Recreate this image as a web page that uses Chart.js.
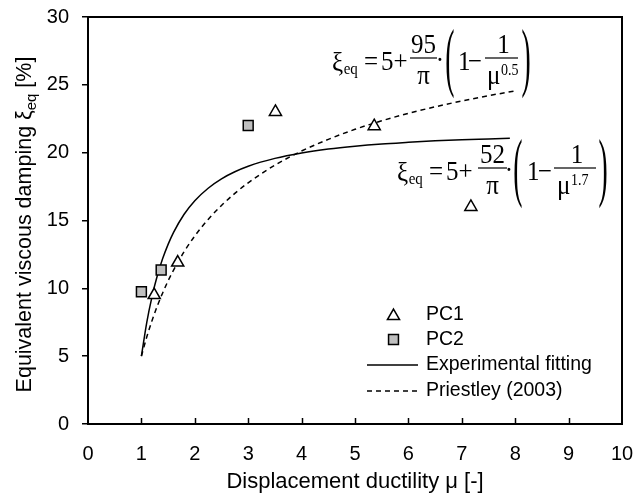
<!DOCTYPE html>
<html>
<head>
<meta charset="utf-8">
<script src="https://cdn.jsdelivr.net/npm/chart.js@4/dist/chart.umd.min.js"></script>
<style>
html,body{margin:0;padding:0;background:#fff;}
#wrap{width:636px;height:500px;}
</style>
</head>
<body>
<div id="wrap"><canvas id="c" width="636" height="500"></canvas></div>
<script>
// ---- data ----
const xTickValues = [0,1,2,3,4,5,6,7,8,9,10];
const yTickValues = [0,5,10,15,20,25,30];

const pc1Mu = [1.24, 1.68, 3.51, 5.36, 7.17];
const pc1Xi = [9.5, 11.9, 23.0, 21.95, 16.0];

const pc2Mu = [1.0, 1.37, 3.0];
const pc2Xi = [9.75, 11.35, 22.0];

const expMu = [1.0, 1.1, 1.2, 1.3, 1.4, 1.5, 1.6, 1.8, 2.0, 2.25, 2.5, 2.75, 3.0, 3.5, 4.0, 4.5, 5.0, 5.5, 6.0, 6.5, 7.0, 7.5, 7.9];
const expXi = [5.00, 7.48, 9.41, 10.96, 12.21, 13.24, 14.11, 15.46, 16.46, 17.38, 18.07, 18.59, 19.00, 19.58, 19.98, 20.27, 20.48, 20.64, 20.76, 20.87, 20.95, 21.01, 21.06];

const priMu = [1.0, 1.1, 1.2, 1.3, 1.4, 1.5, 1.6, 1.8, 2.0, 2.25, 2.5, 2.75, 3.0, 3.5, 4.0, 4.5, 5.0, 5.5, 6.0, 6.5, 7.0, 7.5, 8.0];
const priXi = [5.00, 6.41, 7.63, 8.72, 9.68, 10.55, 11.33, 12.70, 13.86, 15.08, 16.11, 17.00, 17.78, 19.08, 20.12, 20.98, 21.72, 22.35, 22.90, 23.38, 23.81, 24.20, 24.55];

const seriesNames = ['PC1', 'PC2', 'Experimental fitting', 'Priestley (2003)'];
const xTitle = 'Displacement ductility μ [-]';
const yTitleParts = ['Equivalent viscous damping ξ', 'eq', ' [%]'];

// ---- helpers ----
const sans = '"Liberation Sans", Arial, sans-serif';
const serif = '"Liberation Serif", "Times New Roman", serif';
const pts = (xs, ys) => xs.map((x, i) => ({x: x, y: ys[i]}));

const EQ_SIZE = 25, EQ_SY = 1.12;
function T(ctx, s, x, y, size, align) {
  ctx.save();
  ctx.translate(x, y);
  ctx.scale(1, EQ_SY);
  ctx.font = size + 'px ' + serif;
  ctx.textAlign = align || 'left';
  ctx.textBaseline = 'alphabetic';
  ctx.fillText(s, 0, 0);
  ctx.restore();
}
function paren(ctx, ch, left, top, right, bottom) {
  ctx.save();
  ctx.font = '24px ' + serif;
  ctx.textAlign = 'left';
  ctx.textBaseline = 'alphabetic';
  const m = ctx.measureText(ch);
  const inkW = m.actualBoundingBoxLeft + m.actualBoundingBoxRight;
  const inkH = m.actualBoundingBoxAscent + m.actualBoundingBoxDescent;
  const sx = Math.min(1.15, (right - left) / inkW), sy = (bottom - top) / inkH;
  const cx = (left + right) / 2 - inkW * sx / 2;
  ctx.translate(cx, top);
  ctx.scale(sx, sy);
  ctx.fillText(ch, m.actualBoundingBoxLeft, m.actualBoundingBoxAscent);
  ctx.restore();
}
function bar(ctx, x1, x2, y) { ctx.fillRect(x1, y - 0.6, x2 - x1, 1.2); }

function drawEq(ctx, e) {
  ctx.fillStyle = '#000';
  ctx.textBaseline = 'alphabetic';
  T(ctx, 'ξ', e.xi, e.base + 1, EQ_SIZE);
  ctx.font = EQ_SIZE + 'px ' + serif;
  const wx = ctx.measureText('ξ').width;
  T(ctx, 'eq', e.xi + wx + 0.5, e.base + 4, 15);
  T(ctx, '=', e.eqs, e.base, EQ_SIZE);
  T(ctx, '5', e.five, e.base, EQ_SIZE);
  T(ctx, '+', e.plus, e.base, EQ_SIZE);
  T(ctx, e.num, (e.f1a + e.f1b) / 2, e.bar - 5, EQ_SIZE, 'center');
  bar(ctx, e.f1a, e.f1b, e.bar);
  T(ctx, 'π', (e.f1a + e.f1b) / 2, e.bar + 26, EQ_SIZE, 'center');
  T(ctx, '·', e.dot, e.base - 1, EQ_SIZE, 'center');
  paren(ctx, '(', e.pl, e.bar - 30, e.pl + 11, e.bar + 40);
  T(ctx, '1', e.one, e.base, EQ_SIZE);
  T(ctx, '−', e.minus, e.base, EQ_SIZE);
  T(ctx, '1', (e.f2a + e.f2b) / 2 + 2, e.bar - 5, EQ_SIZE, 'center');
  bar(ctx, e.f2a, e.f2b, e.bar);
  T(ctx, 'μ', e.mu, e.bar + 26, EQ_SIZE);
  T(ctx, e.exp, e.mu + 14, e.bar + 17, 14);
  paren(ctx, ')', e.pr, e.bar - 30, e.pr + 11, e.bar + 40);
}

const decor = {
  id: 'decor',
  afterDatasetsDraw(chart) {
    const ctx = chart.ctx, a = chart.chartArea;
    const xs = chart.scales.x;
    ctx.save();
    // frame top and right
    ctx.strokeStyle = '#000';
    ctx.lineWidth = 2;
    ctx.beginPath();
    ctx.moveTo(a.left, a.top); ctx.lineTo(a.right, a.top); ctx.lineTo(a.right, a.bottom);
    ctx.stroke();
    // inward x ticks
    ctx.lineWidth = 1.5;
    xTickValues.forEach(v => {
      if (v === 0 || v === 10) return;
      const px = Math.round(xs.getPixelForValue(v)) + 0.5;
      ctx.beginPath(); ctx.moveTo(px, a.bottom); ctx.lineTo(px, a.bottom - 6); ctx.stroke();
    });
    // axis titles
    ctx.fillStyle = '#000';
    ctx.font = '22px ' + sans;
    ctx.textAlign = 'center';
    ctx.textBaseline = 'alphabetic';
    ctx.fillText(xTitle, (a.left + a.right) / 2, 488);

    ctx.save();
    ctx.translate(31, (a.top + a.bottom) / 2 + 4);
    ctx.rotate(-Math.PI / 2);
    const f1 = '21.5px ' + sans, f2 = '15px ' + sans;
    ctx.font = f1; const w1 = ctx.measureText(yTitleParts[0]).width;
    ctx.font = f2; const w2 = ctx.measureText(yTitleParts[1]).width;
    ctx.font = f1; const w3 = ctx.measureText(yTitleParts[2]).width;
    let x = -(w1 + w2 + w3) / 2;
    ctx.textAlign = 'left';
    ctx.font = f1; ctx.fillText(yTitleParts[0], x, 0); x += w1;
    ctx.font = f2; ctx.fillText(yTitleParts[1], x, 5); x += w2;
    ctx.font = f1; ctx.fillText(yTitleParts[2], x, 0);
    ctx.restore();

    // legend
    const ds = chart.data.datasets;
    const rows = [314.5, 339.5, 365, 391];
    ctx.font = '19.5px ' + sans;
    ctx.textAlign = 'left';
    ctx.textBaseline = 'middle';
    ds.forEach((d, i) => {
      const y = rows[i];
      if (d.showLine) {
        ctx.save();
        ctx.strokeStyle = d.borderColor; ctx.lineWidth = d.borderWidth;
        ctx.setLineDash(d.borderDash || []);
        ctx.beginPath(); ctx.moveTo(367, y); ctx.lineTo(418, y); ctx.stroke();
        ctx.restore();
      } else {
        ctx.save();
        ctx.fillStyle = d.backgroundColor; ctx.strokeStyle = d.borderColor; ctx.lineWidth = d.borderWidth;
        Chart.helpers.drawPoint(ctx, {pointStyle: d.pointStyle, radius: d.pointRadius, borderWidth: d.borderWidth, rotation: 0}, 393.5, y + (d.pointStyle === 'triangle' ? 1.5 : 0));
        ctx.restore();
      }
      ctx.fillStyle = '#000';
      ctx.fillText(d.label, 426, y);
    });

    // equations
    drawEq(ctx, {xi: 332, base: 70, eqs: 364, five: 381, plus: 393.5, num: '95', f1a: 410, f1b: 437, bar: 58,
                 dot: 440, pl: 445, one: 458, minus: 468, f2a: 485, f2b: 518, mu: 487, exp: '0.5', pr: 520});
    drawEq(ctx, {xi: 397, base: 180, eqs: 429, five: 446, plus: 458.5, num: '52', f1a: 478, f1b: 507, bar: 168,
                 dot: 509, pl: 513, one: 527, minus: 538, f2a: 554, f2b: 596, mu: 557, exp: '1.7', pr: 597});
    ctx.restore();
  }
};

function zeroPad(s) { s.paddingLeft = 0; s.paddingRight = 0; s.paddingTop = 0; s.paddingBottom = 0; }

new Chart(document.getElementById('c'), {
  type: 'scatter',
  data: {
    datasets: [
      {label: seriesNames[0], data: pts(pc1Mu, pc1Xi), pointStyle: 'triangle', pointRadius: 7,
       backgroundColor: '#ffffff', borderColor: '#000000', borderWidth: 1.5, showLine: false},
      {label: seriesNames[1], data: pts(pc2Mu, pc2Xi), pointStyle: 'rect', pointRadius: 7,
       backgroundColor: '#bfbfbf', borderColor: '#000000', borderWidth: 1.5, showLine: false},
      {label: seriesNames[2], data: pts(expMu, expXi), showLine: true, pointRadius: 0,
       borderColor: '#000000', backgroundColor: '#000000', borderWidth: 1.5, cubicInterpolationMode: 'monotone', fill: false},
      {label: seriesNames[3], data: pts(priMu, priXi), showLine: true, pointRadius: 0,
       borderColor: '#000000', backgroundColor: '#000000', borderWidth: 1.5, borderDash: [5, 4], cubicInterpolationMode: 'monotone', fill: false}
    ]
  },
  options: {
    responsive: false,
    animation: false,
    devicePixelRatio: 1,
    layout: {padding: {left: 0, top: 17, right: 14, bottom: 0}},
    plugins: {legend: {display: false}, tooltip: {enabled: false}},
    scales: {
      x: {
        type: 'linear', min: 0, max: 10,
        afterBuildTicks: s => { s.ticks = xTickValues.map(v => ({value: v})); },
        afterFit: s => { s.height = 76; zeroPad(s); },
        grid: {display: true, drawOnChartArea: false, drawTicks: false},
        border: {display: true, color: '#000', width: 2},
        ticks: {color: '#000', font: {family: sans, size: 20}, padding: 18, maxRotation: 0, autoSkip: false}
      },
      y: {
        type: 'linear', min: 0, max: 30,
        afterBuildTicks: s => { s.ticks = yTickValues.map(v => ({value: v})); },
        afterFit: s => { s.width = 88; zeroPad(s); },
        grid: {display: true, drawOnChartArea: false, drawTicks: true, tickLength: 6, color: '#000', lineWidth: 1.5},
        border: {display: true, color: '#000', width: 2},
        ticks: {color: '#000', font: {family: sans, size: 20}, padding: 13, autoSkip: false}
      }
    }
  },
  plugins: [decor]
});
</script>
</body>
</html>
